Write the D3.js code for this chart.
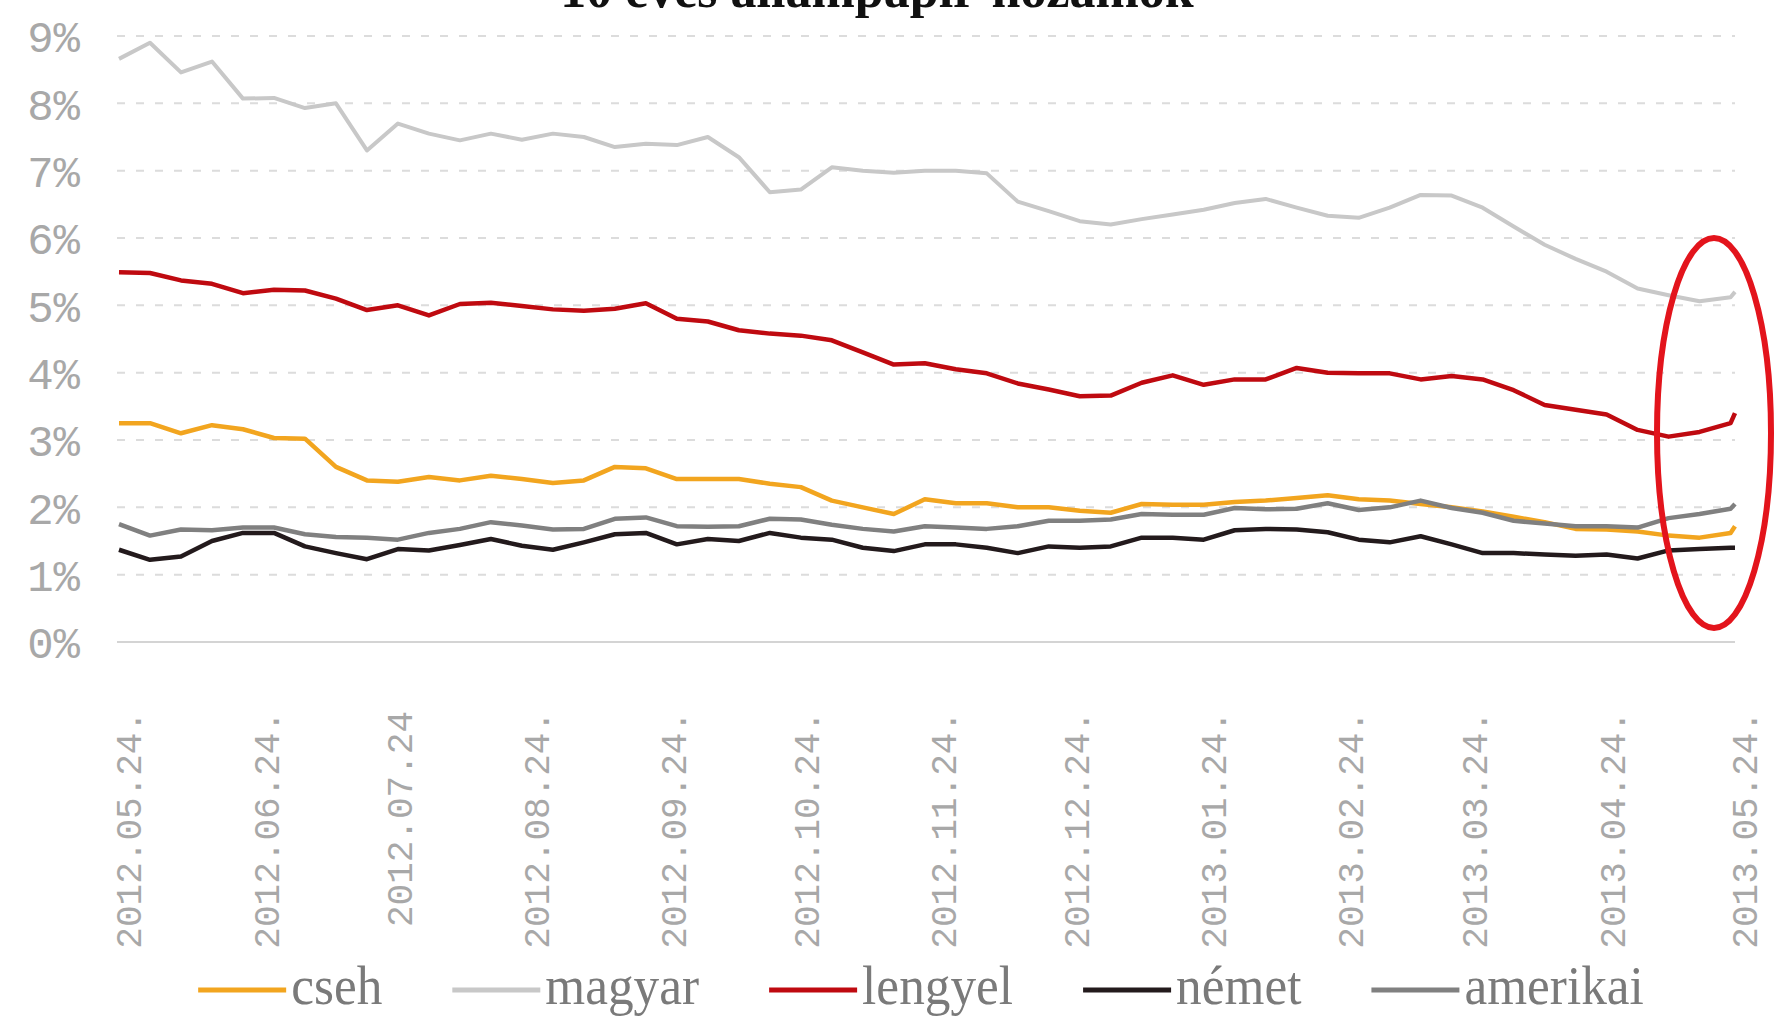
<!DOCTYPE html>
<html>
<head>
<meta charset="utf-8">
<script src="https://cdn.jsdelivr.net/npm/d3@7/dist/d3.min.js"></script>
<style>
  body { margin: 0; background: #ffffff; }
  svg { display: block; }
</style>
</head>
<body>
<div id="chart"></div>
<script>
// Weekly observation dates (10 year yields)
var dates = [
  "2012-05-24", "2012-05-31", "2012-06-07", "2012-06-14", "2012-06-21", "2012-06-28",
  "2012-07-05", "2012-07-12", "2012-07-19", "2012-07-26", "2012-08-02", "2012-08-09",
  "2012-08-16", "2012-08-23", "2012-08-30", "2012-09-06", "2012-09-13", "2012-09-20",
  "2012-09-27", "2012-10-04", "2012-10-11", "2012-10-18", "2012-10-25", "2012-11-01",
  "2012-11-08", "2012-11-15", "2012-11-22", "2012-11-29", "2012-12-06", "2012-12-13",
  "2012-12-20", "2012-12-27", "2013-01-03", "2013-01-10", "2013-01-17", "2013-01-24",
  "2013-01-31", "2013-02-07", "2013-02-14", "2013-02-21", "2013-02-28", "2013-03-07",
  "2013-03-14", "2013-03-21", "2013-03-28", "2013-04-04", "2013-04-11", "2013-04-18",
  "2013-04-25", "2013-05-02", "2013-05-09", "2013-05-16", "2013-05-23", "2013-05-24"
];

var cseh = [
  3.25, 3.25, 3.10, 3.22, 3.16, 3.03, 3.02, 2.60, 2.40, 2.38, 2.45, 2.40, 2.47, 2.42,
  2.36, 2.40, 2.60, 2.58, 2.42, 2.42, 2.42, 2.35, 2.30, 2.10, 2.00, 1.90, 2.12,
  2.06, 2.06, 2.00, 2.00, 1.95, 1.92, 2.05, 2.04, 2.04, 2.08, 2.10, 2.14, 2.18,
  2.12, 2.10, 2.05, 2.00, 1.94, 1.86, 1.78, 1.68, 1.67, 1.64, 1.58, 1.55, 1.62, 1.72
];

var magyar = [
  8.66, 8.90, 8.46, 8.62, 8.07, 8.08, 7.93, 8.00, 7.30, 7.70, 7.55, 7.45, 7.55, 7.46,
  7.55, 7.50, 7.35, 7.40, 7.38, 7.50, 7.20, 6.68, 6.72, 7.05, 7.00, 6.97, 7.00,
  7.00, 6.96, 6.54, 6.40, 6.25, 6.20, 6.28, 6.35, 6.42, 6.52, 6.58, 6.45, 6.33,
  6.30, 6.45, 6.64, 6.63, 6.45, 6.17, 5.90, 5.69, 5.50, 5.25, 5.15, 5.06, 5.12, 5.20
];

var lengyel = [
  5.49, 5.48, 5.37, 5.32, 5.18, 5.23, 5.22, 5.10, 4.93, 5.00, 4.85, 5.02, 5.04, 4.99,
  4.94, 4.92, 4.95, 5.03, 4.80, 4.76, 4.63, 4.58, 4.55, 4.48, 4.30, 4.12, 4.14,
  4.05, 3.99, 3.84, 3.75, 3.65, 3.66, 3.85, 3.96, 3.82, 3.90, 3.90, 4.07, 4.00,
  3.99, 3.99, 3.90, 3.95, 3.90, 3.74, 3.52, 3.45, 3.38, 3.15, 3.05, 3.12, 3.25, 3.40
];

var nemet = [
  1.37, 1.22, 1.27, 1.50, 1.62, 1.62, 1.42, 1.32, 1.23, 1.38, 1.36, 1.44, 1.53, 1.43,
  1.37, 1.48, 1.60, 1.62, 1.45, 1.53, 1.50, 1.62, 1.55, 1.52, 1.40, 1.35, 1.45,
  1.45, 1.40, 1.32, 1.42, 1.40, 1.42, 1.55, 1.55, 1.52, 1.66, 1.68, 1.67, 1.63,
  1.52, 1.48, 1.57, 1.45, 1.32, 1.32, 1.30, 1.28, 1.30, 1.24, 1.36, 1.38, 1.40, 1.40
];

var amerikai = [
  1.75, 1.58, 1.67, 1.66, 1.70, 1.70, 1.60, 1.56, 1.55, 1.52, 1.62, 1.68, 1.78, 1.73,
  1.67, 1.68, 1.83, 1.85, 1.72, 1.71, 1.72, 1.83, 1.82, 1.74, 1.68, 1.64, 1.72,
  1.70, 1.68, 1.72, 1.80, 1.80, 1.82, 1.90, 1.89, 1.89, 1.99, 1.97, 1.98, 2.06,
  1.96, 2.00, 2.10, 1.99, 1.92, 1.80, 1.76, 1.72, 1.72, 1.70, 1.84, 1.90, 1.98, 2.05
];

var seriesNames = ["cseh", "magyar", "lengyel", "német", "amerikai"];
var seriesColors = ["#f2a51f", "#c8c8c8", "#bf0a10", "#231a1c", "#808080"];

var tickDates = [
  "2012-05-24", "2012-06-24", "2012-07-24", "2012-08-24", "2012-09-24", "2012-10-24",
  "2012-11-24", "2012-12-24", "2013-01-24", "2013-02-24", "2013-03-24", "2013-04-24",
  "2013-05-24"
];
var tickLabels = [
  "2012.05.24.", "2012.06.24.", "2012.07.24", "2012.08.24.", "2012.09.24.", "2012.10.24.",
  "2012.11.24.", "2012.12.24.", "2013.01.24.", "2013.02.24.", "2013.03.24.", "2013.04.24.",
  "2013.05.24."
];
var yTicks = [0, 1, 2, 3, 4, 5, 6, 7, 8, 9];

var titleText = "10 éves állampapír-hozamok";

// SVG area
var svgWidth = 1775;
var svgHeight = 1020;

var plot = { left: 117, right: 1735, top: 36, bottom: 642 };

var svg = d3.select("#chart")
  .append("svg")
  .attr("width", svgWidth)
  .attr("height", svgHeight);

var parseDate = d3.timeParse("%Y-%m-%d");

var series = seriesNames.map(function(name, i) {
  var vals = [cseh, magyar, lengyel, nemet, amerikai][i];
  return {
    name: name,
    color: seriesColors[i],
    values: dates.map(function(d, j) { return { date: parseDate(d), value: vals[j] }; })
  };
});

// Scales
var xScale = d3.scaleTime()
  .domain([parseDate("2012-05-24"), parseDate("2013-05-24")])
  .range([plot.left + 2, plot.right]);

var yScale = d3.scaleLinear()
  .domain([0, 9])
  .range([plot.bottom, plot.top]);

// Title, mostly cut off by the top edge
svg.append("text")
  .attr("x", 877)
  .attr("y", 7)
  .attr("text-anchor", "middle")
  .style("font-family", "'Liberation Serif', serif")
  .style("font-weight", "bold")
  .style("font-size", "52px")
  .style("fill", "#111")
  .text(titleText);

// Gridlines
svg.append("g")
  .selectAll("line")
  .data(yTicks)
  .enter()
  .append("line")
  .attr("x1", plot.left)
  .attr("x2", plot.right)
  .attr("y1", d => yScale(d))
  .attr("y2", d => yScale(d))
  .attr("stroke", d => d === 0 ? "#d4d4d4" : "#dcdcdc")
  .attr("stroke-width", 2)
  .attr("stroke-dasharray", d => d === 0 ? null : "8,11");

// Y axis labels
var leftAxis = d3.axisLeft(yScale)
  .tickValues(yTicks)
  .tickFormat(d => d + "%")
  .tickSize(0)
  .tickPadding(0);

var yAxisG = svg.append("g")
  .attr("transform", "translate(80,0)")
  .call(leftAxis);
yAxisG.select(".domain").remove();
yAxisG.selectAll("text")
  .attr("dy", "0.36em")
  .style("font-family", "'Liberation Mono', monospace")
  .style("font-size", "44px")
  .style("fill", "#a8a8a8");

// X axis labels (rotated)
var bottomAxis = d3.axisBottom(xScale)
  .tickValues(tickDates.map(parseDate))
  .tickFormat((d, i) => tickLabels[i])
  .tickSize(0);

var xAxisG = svg.append("g")
  .attr("transform", "translate(0,711)")
  .call(bottomAxis);
xAxisG.select(".domain").remove();
xAxisG.selectAll("text")
  .attr("transform", "rotate(-90)")
  .attr("x", 0)
  .attr("y", 9)
  .attr("dy", "0.36em")
  .attr("text-anchor", "end")
  .style("font-family", "'Liberation Mono', monospace")
  .style("font-size", "36px")
  .style("fill", "#a8a8a8");

// Lines
var line = d3.line()
  .x(d => xScale(d.date))
  .y(d => yScale(d.value));

svg.append("g")
  .selectAll("path")
  .data(series)
  .enter()
  .append("path")
  .attr("d", d => line(d.values))
  .attr("fill", "none")
  .attr("stroke", d => d.color)
  .attr("stroke-width", d => d.name === "magyar" ? 4 : 4.5)
  .attr("stroke-linejoin", "round");

// Red highlight ellipse
svg.append("ellipse")
  .attr("cx", 1714)
  .attr("cy", 433)
  .attr("rx", 57)
  .attr("ry", 195)
  .attr("fill", "none")
  .attr("stroke", "#e3141c")
  .attr("stroke-width", 6);

// Legend
var legend = svg.append("g");
var legendY = 990;
var textScale = 0.95;
var cursor = 0;
series.forEach(function(s) {
  var item = legend.append("g");
  item.append("line")
    .attr("x1", cursor)
    .attr("x2", cursor + 88)
    .attr("y1", legendY)
    .attr("y2", legendY)
    .attr("stroke", s.color)
    .attr("stroke-width", 5);
  var t = item.append("text")
    .attr("transform", `translate(${cursor + 93}, ${legendY + 14}) scale(${textScale},1)`)
    .style("font-family", "'Liberation Serif', serif")
    .style("font-size", "54px")
    .style("fill", "#7a7a7a")
    .text(s.name);
  var w = t.node().getComputedTextLength() * textScale;
  cursor += 93 + w + 70;
});
var legendWidth = cursor - 70;
legend.attr("transform", `translate(${921 - legendWidth / 2}, 0)`);
</script>
</body>
</html>
